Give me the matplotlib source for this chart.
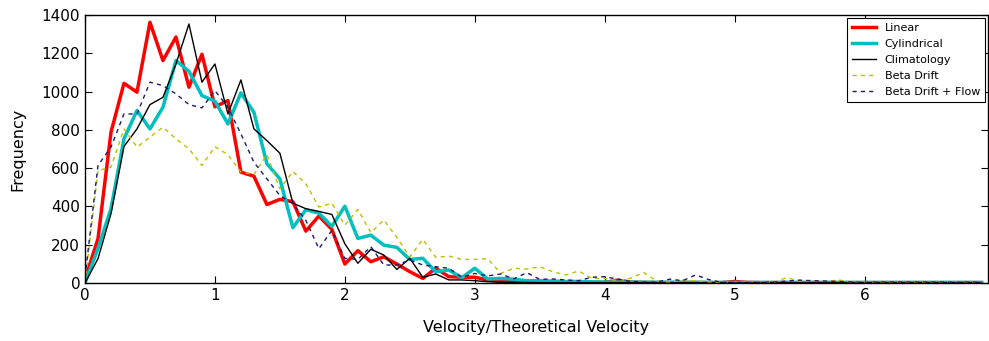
import numpy as np
import matplotlib
matplotlib.use("Agg")
import matplotlib.pyplot as plt

x = [round(0.1 * i, 1) for i in range(70)]

linear = [20, 231, 788, 1043, 997, 1362, 1162, 1285, 1023, 1195,
          920, 953, 579, 558, 410, 437, 425, 271, 350, 280,
          99, 169, 111, 137, 99, 59, 24, 77, 33, 30,
          30, 16, 8, 6, 5, 4, 3, 3, 2, 2,
          3, 15, 5, 3, 2, 2, 2, 2, 2, 2,
          8, 3, 2, 2, 2, 2, 2, 2, 2, 2,
          2, 2, 2, 2, 2, 2, 2, 2, 2, 2]
cylindrical = [0, 180, 388, 753, 901, 805, 918, 1162, 1106, 979,
               950, 831, 993, 892, 623, 544, 289, 383, 365, 296,
               401, 233, 250, 198, 186, 123, 129, 59, 68, 28,
               77, 21, 24, 20, 12, 12, 10, 8, 8, 6,
               5, 5, 5, 4, 4, 4, 4, 4, 3, 3,
               3, 3, 3, 3, 3, 3, 3, 3, 3, 3,
               3, 3, 3, 3, 3, 3, 3, 3, 3, 3]
climatology = [0, 127, 362, 713, 805, 932, 970, 1144, 1353, 1049,
               1144, 883, 1061, 805, 744, 678, 417, 388, 374, 358,
               205, 103, 176, 146, 71, 129, 30, 47, 16, 16,
               12, 7, 4, 3, 3, 2, 2, 2, 2, 2,
               2, 2, 2, 2, 2, 2, 2, 2, 2, 2,
               2, 2, 2, 2, 2, 2, 2, 2, 2, 2,
               2, 2, 2, 2, 2, 2, 2, 2, 2, 2]
beta_drift = [0, 588, 605, 805, 710, 762, 814, 753, 701, 614,
              712, 671, 579, 567, 671, 492, 583, 518, 397, 417,
              302, 384, 263, 329, 238, 137, 228, 134, 141, 123,
              123, 127, 50, 77, 73, 85, 59, 42, 63, 24,
              24, 12, 25, 55, 10, 5, 15, 12, 5, 3,
              5, 8, 5, 3, 28, 10, 12, 8, 16, 3,
              3, 3, 3, 3, 3, 3, 5, 3, 3, 3]
beta_drift_flow = [31, 614, 710, 883, 883, 1049, 1031, 988, 932, 915,
                   1005, 918, 779, 631, 544, 457, 414, 327, 179, 275,
                   129, 123, 190, 94, 94, 120, 94, 85, 77, 30,
                   50, 37, 47, 21, 54, 19, 21, 16, 12, 30,
                   33, 20, 8, 5, 5, 20, 12, 42, 18, 3,
                   3, 3, 3, 5, 10, 15, 12, 10, 8, 5,
                   3, 5, 5, 5, 5, 5, 5, 3, 5, 3]

fig = plt.figure(figsize=(9.89, 3.41), dpi=100)
ax = fig.add_axes([85/989, 1 - 283/341, (988 - 85)/989, (283 - 15)/341])

ax.plot(x, linear, color='red', lw=2.5, label='Linear')
ax.plot(x, cylindrical, color='#00bfbf', lw=2.5, label='Cylindrical')
ax.plot(x, climatology, color='black', lw=1.0, label='Climatology')
ax.plot(x, beta_drift, color='#bfbf00', lw=1.0, ls=(0, (3, 3)), label='Beta Drift')
ax.plot(x, beta_drift_flow, color='#1a1a6e', lw=1.0, ls=(0, (3, 3)), label='Beta Drift + Flow')

ax.set_xlim(0, 6.95)
ax.set_ylim(0, 1400)
ax.set_xticks(range(0, 7))
ax.set_yticks(range(0, 1401, 200))
ax.tick_params(direction='in', top=True, right=True, length=5, width=0.8, labelsize=11)
for s in ax.spines.values():
    s.set_linewidth(1.0)
ax.set_xlabel('Velocity/Theoretical Velocity', fontsize=11.5, labelpad=12)
ax.set_ylabel('Frequency', fontsize=11.5, labelpad=12)

leg = ax.legend(loc='upper right', fontsize=8, fancybox=False, framealpha=1,
                edgecolor='black', handlelength=2.2, borderaxespad=0.3,
                labelspacing=0.55)
leg.get_frame().set_linewidth(0.8)

fig.savefig('out.png', dpi=100)
